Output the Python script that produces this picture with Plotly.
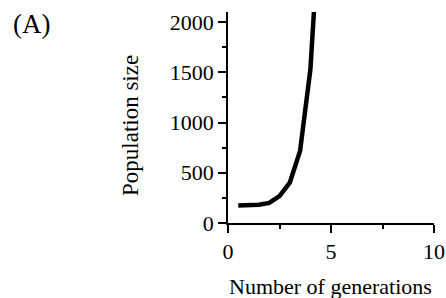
import plotly.graph_objects as go

generations = [0.5, 1.0, 1.5, 2.0, 2.5, 3.0, 3.5, 4.0, 4.5]
population = [175, 177, 182, 200, 268, 402, 718, 1530, 3200]

x_ticks = [0, 5, 10]
y_ticks = [0, 500, 1000, 1500, 2000]

FONT = "Liberation Serif"

W, H = 446, 298
L, R, T, B = 228, 12, 12, 75
pw, ph = W - L - R, H - T - B

fig = go.Figure()
fig.add_trace(go.Scatter(x=generations, y=population, mode="lines",
                         line=dict(color="black", width=4.5),
                         showlegend=False, hoverinfo="skip"))

axis_common = dict(showgrid=False, zeroline=False, showline=True,
                   linecolor="black", linewidth=1.5, ticks="outside",
                   ticklen=8, tickwidth=1.5, tickcolor="black",
                   tickfont=dict(family=FONT, size=22, color="black"))

fig.update_xaxes(range=[0, 10], tickvals=x_ticks, ticktext=[str(v) for v in x_ticks],
                 minor=dict(ticks="outside", ticklen=4, tickwidth=1.5, tickcolor="black",
                            tickvals=[2.5, 7.5]),
                 automargin=False, **axis_common)
fig.update_yaxes(range=[0, 2100], tickvals=y_ticks, ticktext=[str(v) for v in y_ticks],
                 minor=dict(ticks="outside", ticklen=4, tickwidth=1.5, tickcolor="black",
                            tickvals=[250, 750, 1250, 1750]),
                 automargin=False, **axis_common)


def ann(text, px, py, size, angle=0):
    return dict(text=text, x=(px - L) / pw, y=1 - (py - T) / ph,
                xref="paper", yref="paper", showarrow=False, textangle=angle,
                font=dict(family=FONT, size=size, color="black"),
                xanchor="center", yanchor="middle")


fig.update_layout(
    width=W, height=H,
    margin=dict(l=L, r=R, t=T, b=B, autoexpand=False),
    plot_bgcolor="white", paper_bgcolor="white",
    font=dict(family=FONT, color="black"),
    annotations=[
        ann("(A)", 31.5, 24, 27),
        ann("Population size", 130, 126, 23, -90),
        ann("Number of generations", 330, 286, 22),
    ],
)

fig.write_html("out.html",
               config={"displayModeBar": False},
               post_script="document.body.style.margin='0';"
                           "document.body.style.overflow='hidden';")
